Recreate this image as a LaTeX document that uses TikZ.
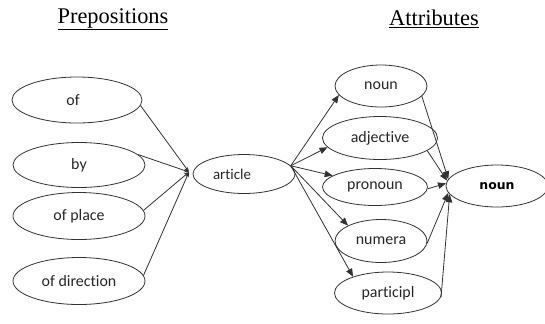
\documentclass[tikz,border=0pt]{standalone}
\usepackage{fontspec}
\setmainfont{Liberation Serif}
\newfontfamily\carlitofam[RawFeature=-liga]{Carlito}
\newfontfamily\dejavufam{DejaVu Sans}
\usetikzlibrary{shapes.geometric,arrows.meta}
\begin{document}
\begin{tikzpicture}[x=1bp,y=-1bp,
  ell/.style={draw=black!80, line width=0.8bp, ellipse, inner sep=0pt,
    font=\carlitofam\fontsize{16}{18}\selectfont, text=black!85},
  con/.style={draw=black!80, line width=0.8bp},
  arr/.style={con, -{Triangle[length=8bp,width=6.5bp]}},
  sarr/.style={con, -{Stealth[length=5bp,width=4bp]}},
  ttl/.style={font=\fontsize{22.5}{26}\selectfont, inner sep=0pt}]
\useasboundingbox (0,0) rectangle (545,323);
% titles
\node[ttl] (tp) at (113,19) {\underline{Prepositions}};
\node[ttl] (ta) at (434,19) {\underline{Attributes}};
% left ellipses
\node[ell, minimum width=130bp, minimum height=46bp] (of) at (77,100) {of\hspace*{8bp}};
\node[ell, minimum width=132bp, minimum height=45bp] (by) at (79,165) {by};
\node[ell, minimum width=132bp, minimum height=47bp] (place) at (79,216) {of place};
\node[ell, minimum width=132bp, minimum height=47bp] (dir) at (79,281) {of direction};
% article
\node[ell, minimum width=102bp, minimum height=39bp, font=\carlitofam\fontsize{15}{17}\selectfont] (art) at (244,174) {article\hspace*{24bp}};
\coordinate (conv) at (189,172);
\draw[sarr] (of.-5) -- (conv);
\draw[sarr] (by.10) -- (conv);
\draw[sarr] (place.5) -- (conv);
\draw[sarr] (dir.5) -- (conv);
% right ellipses
\node[ell, minimum width=92bp, minimum height=42bp] (n1) at (381,86) {noun};
\node[ell, minimum width=115bp, minimum height=43bp] (adj) at (380,138) {adjective};
\node[ell, minimum width=105bp, minimum height=37bp] (pro) at (375,187) {pronoun};
\node[ell, minimum width=92bp, minimum height=43bp] (num) at (381,241) {numera};
\node[ell, minimum width=107bp, minimum height=42bp] (part) at (388,293) {participl};
\node[ell, minimum width=102bp, minimum height=42bp, font=\dejavufam\bfseries\fontsize{12.5}{15}\selectfont, text=black] (bn) at (497,186) {noun};
% arrows from article
\draw[arr] (art.10) -- (n1.192);
\draw[arr] (art.10) -- (adj.190);
\draw[arr] (art.10) -- (pro.165);
\draw[arr] (art.10) -- (num.155);
\draw[arr] (art.10) -- (part.155);
% arrows into bold noun
\draw[arr] (n1.-14) -- (bn.172);
\draw[arr] (adj.-15) -- (bn.174);
\draw[arr] (pro.-2) -- (bn.177);
\draw[arr] (num.-3) -- (bn.188);
\draw[arr] (part.-4) -- (bn.190);
\end{tikzpicture}
\end{document}
